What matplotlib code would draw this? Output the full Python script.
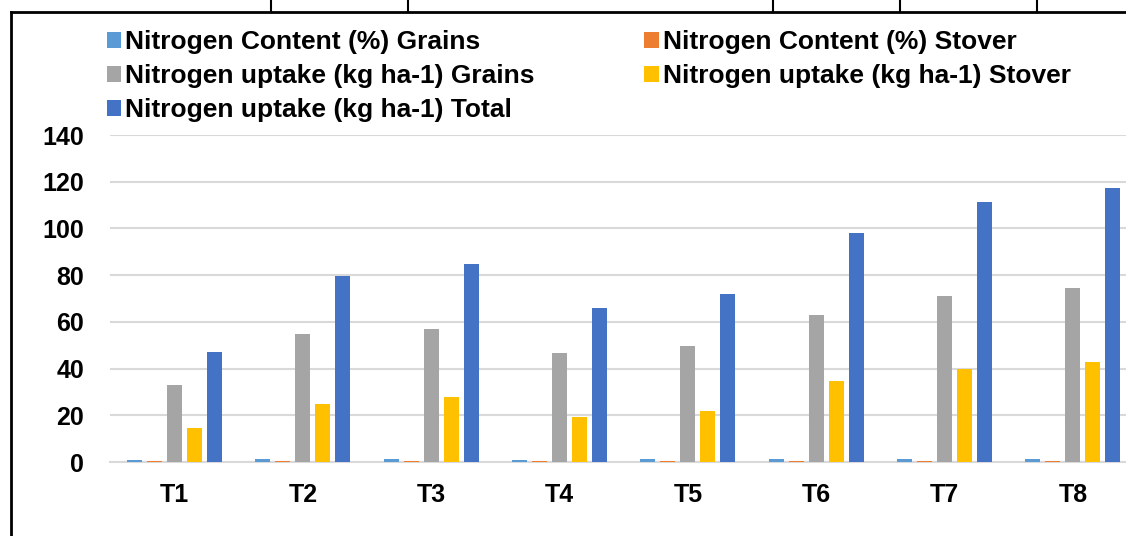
import matplotlib.pyplot as plt
import numpy as np
from matplotlib.lines import Line2D
from matplotlib.patches import Patch

plt.rcParams['font.family'] = ['Liberation Sans', 'DejaVu Sans']
plt.rcParams['font.weight'] = 'bold'

# values
treatments = ['T1', 'T2', 'T3', 'T4', 'T5', 'T6', 'T7', 'T8']
n_content_grains = [1.0, 1.1, 1.15, 1.05, 1.1, 1.2, 1.25, 1.3]
n_content_stover = [0.4, 0.45, 0.5, 0.4, 0.45, 0.5, 0.55, 0.55]
n_uptake_grains = [32.8, 54.7, 57.1, 46.7, 49.8, 63.1, 71.2, 74.4]
n_uptake_stover = [14.6, 25.0, 27.8, 19.3, 21.8, 34.5, 39.7, 42.9]
n_uptake_total = [47.2, 79.8, 84.9, 66.1, 71.8, 97.9, 111.2, 117.3]

labels = ['Nitrogen Content (%) Grains', 'Nitrogen Content (%) Stover',
          'Nitrogen uptake (kg ha-1) Grains', 'Nitrogen uptake (kg ha-1) Stover',
          'Nitrogen uptake (kg ha-1) Total']
colors = ['#5B9BD5', '#ED7D31', '#A5A5A5', '#FFC000', '#4472C4']
series = [n_content_grains, n_content_stover, n_uptake_grains, n_uptake_stover, n_uptake_total]

fig = plt.figure(figsize=(11.26, 5.36), dpi=100)
ax = fig.add_axes([0.0981, 0.138, 0.9117, 0.610])

x = np.arange(len(treatments))
slot = 0.156
width = 0.117
for i, (vals, col) in enumerate(zip(series, colors)):
    ax.bar(x + (i - 2) * slot, vals, width, color=col, linewidth=0, zorder=3)

ax.set_xlim(-0.5, len(treatments) - 0.5)
ax.set_ylim(0, 140)
ax.set_yticks(range(0, 141, 20))
ax.set_xticks(x)
ax.set_xticklabels(treatments)
ax.tick_params(axis='both', length=0, labelsize=18)
ax.tick_params(axis='y', pad=19)
ax.tick_params(axis='x', pad=15)
for lab in ax.get_xticklabels() + ax.get_yticklabels():
    lab.set_fontweight('bold')

ax.grid(axis='y', color='#D9D9D9', linewidth=1.5, zorder=0)
for s in ['top', 'right', 'left']:
    ax.spines[s].set_visible(False)
ax.spines['bottom'].set_color('#D9D9D9')
ax.spines['bottom'].set_linewidth(1.5)

handles = [Patch(facecolor=c, edgecolor='none') for c in colors]
order = [0, 2, 4, 1, 3]
leg = fig.legend([handles[i] for i in order], [labels[i] for i in order],
                 loc='upper left', bbox_to_anchor=(0.095, 0.944), ncol=2, frameon=False,
                 prop={'size': 19, 'weight': 'bold'}, handlelength=0.55, handleheight=0.55,
                 handletextpad=0.15, columnspacing=4.15, labelspacing=0.38,
                 borderpad=0, borderaxespad=0)
for t in leg.get_texts():
    t.set_fontweight('bold')
    t.set_color('black')

# page frame lines around the chart
lw = 2
fig.add_artist(Line2D([11 / 1126, 11 / 1126], [0, 1 - 12 / 536], color='black', lw=lw))
fig.add_artist(Line2D([11 / 1126, 1], [1 - 12 / 536, 1 - 12 / 536], color='black', lw=lw))
for px in [271, 408, 773, 900, 1037]:
    fig.add_artist(Line2D([px / 1126, px / 1126], [1 - 12 / 536, 1], color='black', lw=1.5))

fig.savefig('out.png', dpi=100)
